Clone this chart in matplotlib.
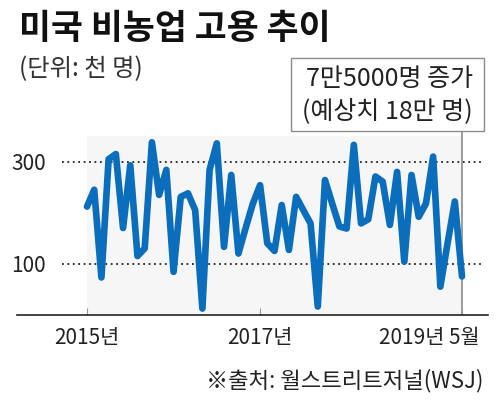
import matplotlib
matplotlib.use('Agg')
import matplotlib.pyplot as plt
from matplotlib.patches import Rectangle
from matplotlib.transforms import ScaledTranslation

plt.rcParams['font.family'] = ['Noto Sans CJK KR', 'DejaVu Sans']

# 월별 비농업 고용 증감 (천 명), 2015년 1월 ~ 2019년 5월
months = list(range(53))
jobs = [212, 245, 73, 305, 315, 170, 293, 115, 130, 338, 235, 284,
        84, 231, 238, 205, 12, 284, 336, 133, 274, 120, 170, 218,
        254, 140, 125, 215, 127, 231, 205, 179, 16, 264, 218, 173,
        169, 333, 179, 187, 271, 261, 176, 280, 104, 274, 192, 218,
        310, 55, 140, 222, 75]

tick_pos = [0, 24, 52]
tick_labels = ['2015년', '2017년', '2019년 5월']
grid_vals = [100, 300]

title = '미국 비농업 고용 추이'
unit = '(단위: 천 명)'
note = ['7만5000명 증가', '(예상치 18만 명)']
source = '※출처: 월스트리트저널(WSJ)'

W, H = 500, 408
fig = plt.figure(figsize=(W / 100, H / 100), dpi=100)
fig.patch.set_facecolor('white')

# 축 위치 (픽셀 기준)
px_per_month = 375 / 52
px_per_unit = 0.51
x0px, base_px = 87, 314.7
left_px, right_px, top_px = 17, 488, 100
ax = fig.add_axes([left_px / W, 1 - base_px / H,
                   (right_px - left_px) / W, (base_px - top_px) / H])
ax.set_xlim((left_px - x0px) / px_per_month, (right_px - x0px) / px_per_month)
ax.set_ylim(0, (base_px - top_px) / px_per_unit)

ax.axvspan(months[0], months[-1], ymin=0, ymax=350 / ax.get_ylim()[1],
           color='#f6f6f6', lw=0, zorder=0)

gx0 = (62 - x0px) / px_per_month
gx1 = (483 - x0px) / px_per_month
ax.hlines(grid_vals, gx0, gx1, colors='#222222', linestyles=(0, (1, 2)),
          lw=1.3, zorder=1)

# 박스 연결선
ax.vlines(months[-1], 0, (base_px - 131) / px_per_unit, colors='#8c8c8c',
          lw=1.2, zorder=1, clip_on=False)

ax.plot(months, jobs, color='#0b6ebd', lw=4.8, solid_joinstyle='round',
        solid_capstyle='round', zorder=3, clip_on=False)

for s in ['top', 'right', 'left']:
    ax.spines[s].set_visible(False)
ax.spines['bottom'].set_linewidth(1.2)
ax.spines['bottom'].set_color('#222222')

ax.set_yticks(grid_vals)
ax.set_yticklabels([str(v) for v in grid_vals])
ax.tick_params(axis='y', length=0, pad=-21, labelsize=15, labelcolor='#222222')

ax.set_xticks(tick_pos)
ax.set_xticklabels(tick_labels)
ax.tick_params(axis='x', direction='in', length=5, width=0.8, color='#999999',
               pad=9, labelsize=15, labelcolor='#222222')
last = ax.get_xticklabels()[-1]
last.set_ha('right')
last.set_transform(last.get_transform() + ScaledTranslation(0.18, 0, fig.dpi_scale_trans))
ax.patch.set_alpha(0)

fig.text(19 / W, 1 - 28 / H, title, fontsize=25, fontweight='bold',
         va='center', ha='left', color='#111111')
fig.text(19 / W, 1 - 69 / H, unit, fontsize=17.5, va='center', ha='left',
         color='#333333')

fig.patches.append(Rectangle((291 / W, 1 - 131 / H), 193 / W, 73 / H,
                             transform=fig.transFigure, fill=False,
                             edgecolor='#8c8c8c', lw=1.0))
fig.text(473 / W, 1 - 79 / H, note[0], fontsize=18, va='center', ha='right',
         color='#222222')
fig.text(473 / W, 1 - 112 / H, note[1], fontsize=18, va='center', ha='right',
         color='#222222')

fig.text(483 / W, 1 - 381 / H, source, fontsize=16, va='center', ha='right',
         color='#222222')

fig.savefig('out.png', dpi=100)
